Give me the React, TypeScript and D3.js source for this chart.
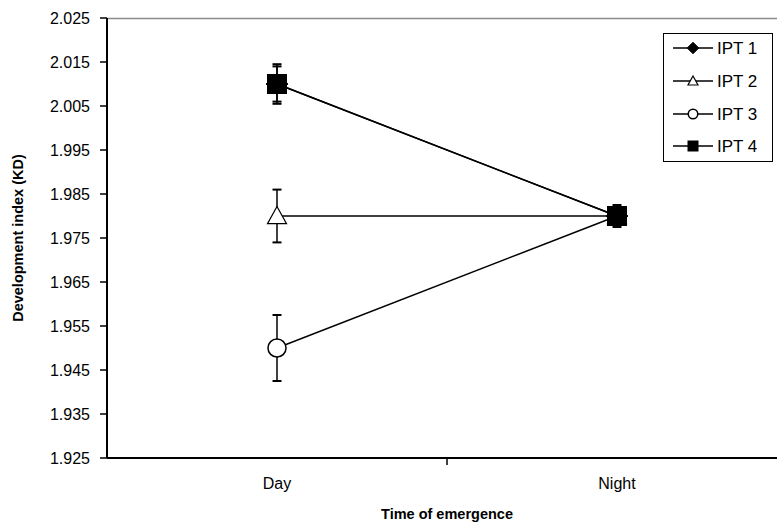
import React from "react";
import * as d3 from "d3";

const categories = ["Day", "Night"];
const seriesNames = ["IPT 1", "IPT 2", "IPT 3", "IPT 4"];
const ipt1 = [2.010, 1.980];
const ipt2 = [1.980, 1.980];
const ipt3 = [1.950, 1.980];
const ipt4 = [2.010, 1.980];
const err1 = [0.004, 0.002];
const err2 = [0.006, 0.002];
const err3 = [0.0075, 0.002];
const err4 = [0.0045, 0.0025];
const yTicks = [1.925, 1.935, 1.945, 1.955, 1.965, 1.975, 1.985, 1.995, 2.005, 2.015, 2.025];
const markers = ["diamond", "triangle", "circle", "square"];

const W = 777, H = 527;
const left = 107, top = 18, bottom = 458, rightExt = 787;
const FONT = "'Liberation Sans', Arial, sans-serif";

function Marker({ type, x, y, s }: { type: string; x: number; y: number; s: number }) {
  const h = s / 2;
  if (type === "diamond") {
    return <path d={`M${x},${y - h * 1.15}L${x + h * 1.15},${y}L${x},${y + h * 1.15}L${x - h * 1.15},${y}Z`} fill="#000" stroke="#000" />;
  }
  if (type === "triangle") {
    return <path d={`M${x},${y - h}L${x + h},${y + h * 0.8}L${x - h},${y + h * 0.8}Z`} fill="#fff" stroke="#000" strokeWidth={1.2} />;
  }
  if (type === "circle") {
    return <circle cx={x} cy={y} r={h * 0.95} fill="#fff" stroke="#000" strokeWidth={1.5} />;
  }
  return <rect x={x - h} y={y - h} width={s} height={s} fill="#000" stroke="#000" />;
}

export default function App() {
  const x = d3.scaleBand<string>().domain(categories).range([left, rightExt]);
  const y = d3.scaleLinear().domain([1.925, 2.025]).range([bottom, top]);
  const series = [ipt1, ipt2, ipt3, ipt4];
  const errs = [err1, err2, err3, err4];
  const cx = (c: string) => (x(c) as number) + x.bandwidth() / 2;
  const line = d3.line<number>().x((_, i) => cx(categories[i])).y((v) => y(v));
  const legendRows = [48, 81, 114, 146];

  return (
    <svg width={W} height={H} style={{ position: "absolute", left: 0, top: 0, background: "#fff" }}>
      <rect x={0} y={0} width={W} height={H} fill="#fff" />
      <line x1={left} x2={W} y1={top + 0.5} y2={top + 0.5} stroke="#8c8c8c" strokeWidth={1.5} />
      <line x1={left} x2={left} y1={top} y2={bottom} stroke="#000" strokeWidth={2} />
      {yTicks.map((t) => (
        <g key={t}>
          <line x1={left - 7} x2={left} y1={y(t)} y2={y(t)} stroke="#000" strokeWidth={1.5} />
          <text x={left - 17} y={y(t)} dy="0.36em" textAnchor="end" fontFamily={FONT} fontSize={16} fill="#000">
            {t.toFixed(3)}
          </text>
        </g>
      ))}
      <line x1={left} x2={W} y1={bottom} y2={bottom} stroke="#000" strokeWidth={2} />
      {categories.map((c, i) => (
        <g key={c}>
          {i > 0 && <line x1={x(c) as number} x2={x(c) as number} y1={bottom} y2={bottom + 7} stroke="#000" strokeWidth={1.5} />}
          <text x={cx(c)} y={489} textAnchor="middle" fontFamily={FONT} fontSize={16} fill="#000">{c}</text>
        </g>
      ))}
      <text x={447} y={519} textAnchor="middle" fontFamily={FONT} fontSize={14.5} fontWeight="bold" fill="#000">Time of emergence</text>
      <text transform={`translate(23,${(top + bottom) / 2}) rotate(-90)`} textAnchor="middle" fontFamily={FONT} fontSize={14.5} fontWeight="bold" fill="#000">Development index (KD)</text>

      {series.map((s, k) => (
        <path key={k} d={line(s) as string} fill="none" stroke="#000" strokeWidth={1.5} />
      ))}
      {series.map((s, k) =>
        s.map((v, i) => {
          const px = cx(categories[i]);
          const e = errs[k][i];
          return (
            <g key={`${k}-${i}`} stroke="#000" strokeWidth={1.5}>
              <line x1={px} x2={px} y1={y(v + e)} y2={y(v - e)} />
              <line x1={px - 4.5} x2={px + 4.5} y1={y(v + e)} y2={y(v + e)} strokeWidth={2} />
              <line x1={px - 4.5} x2={px + 4.5} y1={y(v - e)} y2={y(v - e)} strokeWidth={2} />
            </g>
          );
        })
      )}
      {series.map((s, k) =>
        s.map((v, i) => <Marker key={`m${k}-${i}`} type={markers[k]} x={cx(categories[i])} y={y(v)} s={19} />)
      )}

      <rect x={663.5} y={33.5} width={109} height={128} fill="#fff" stroke="#000" strokeWidth={1} />
      {seriesNames.map((n, k) => (
        <g key={n}>
          <line x1={673} x2={713} y1={legendRows[k]} y2={legendRows[k]} stroke="#000" strokeWidth={1.5} />
          <Marker type={markers[k]} x={693} y={legendRows[k]} s={10} />
          <text x={717} y={legendRows[k]} dy="0.36em" fontFamily={FONT} fontSize={17} fill="#000">{n}</text>
        </g>
      ))}
    </svg>
  );
}
